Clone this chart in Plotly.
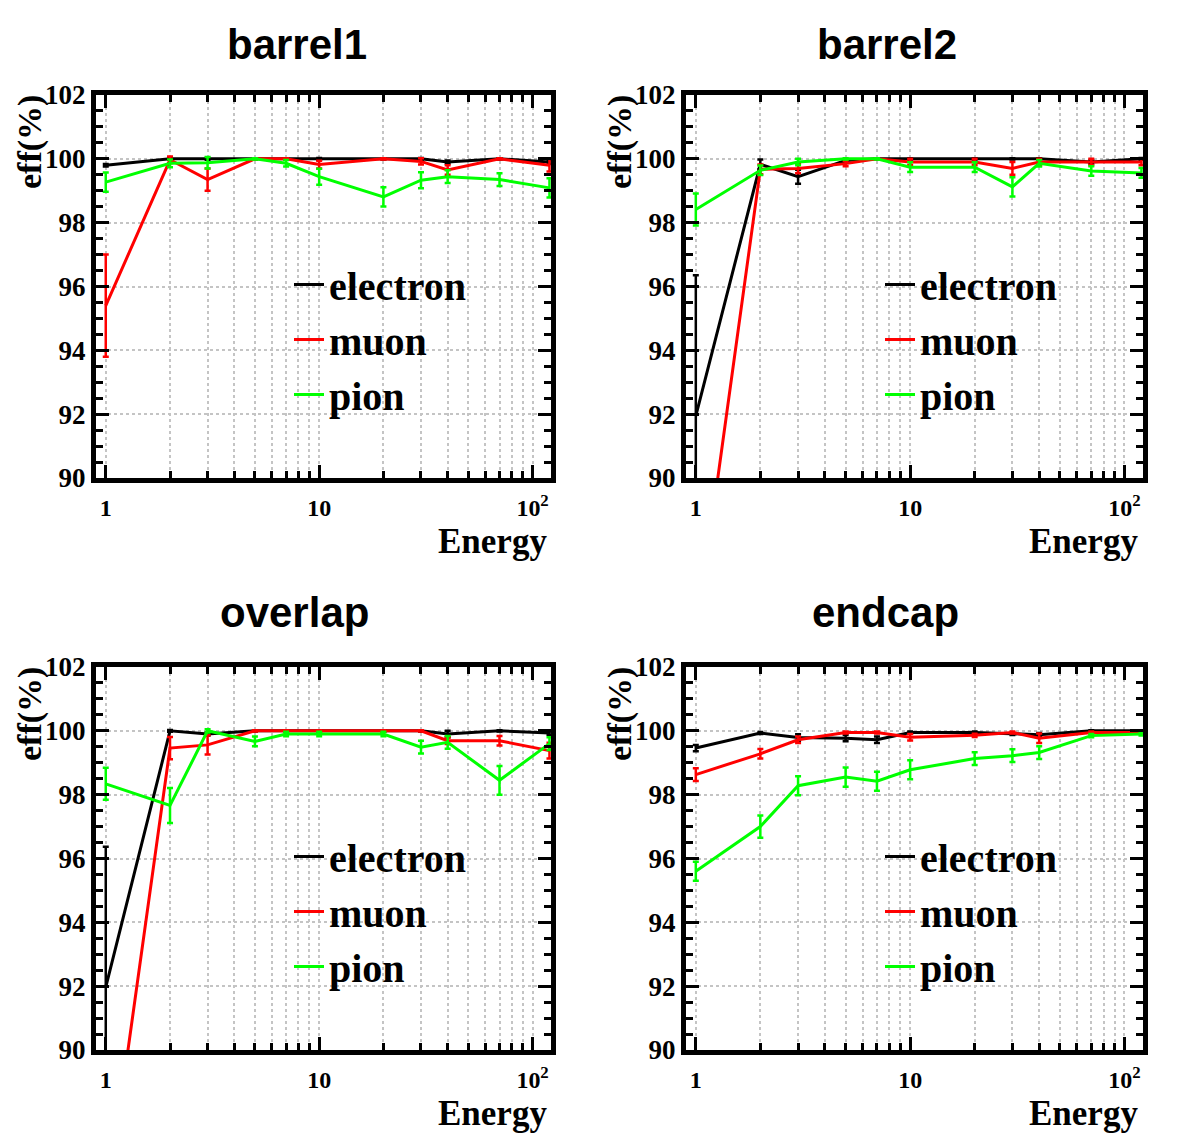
import plotly.graph_objects as go
import math

energy = [1, 2, 3, 5, 7, 10, 20, 30, 40, 70, 120]
panels = ["barrel1", "barrel2", "overlap", "endcap"]

# barrel1
b1_e = [99.80, 100.0, 100.0, 100.0, 100.0, 100.0, 100.0, 100.0, 99.90, 100.0, 99.90]
b1_e_err = [0.04, 0.03, 0.03, 0.02, 0.02, 0.03, 0.02, 0.03, 0.05, 0.02, 0.06]
b1_m = [95.40, 99.97, 99.35, 100.0, 100.0, 99.82, 100.0, 99.92, 99.65, 100.0, 99.80]
b1_m_err = [1.60, 0.10, 0.35, 0.02, 0.02, 0.12, 0.02, 0.10, 0.15, 0.02, 0.20]
b1_p = [99.27, 99.86, 99.88, 100.0, 99.86, 99.44, 98.81, 99.33, 99.44, 99.35, 99.09]
b1_p_err = [0.30, 0.12, 0.18, 0.02, 0.10, 0.25, 0.30, 0.25, 0.20, 0.20, 0.30]

# barrel2
b2_e = [91.95, 99.83, 99.44, 99.95, 100.0, 100.0, 100.0, 100.0, 100.0, 99.90, 100.0]
b2_e_err = [4.40, 0.15, 0.22, 0.03, 0.02, 0.02, 0.02, 0.02, 0.02, 0.05, 0.03]
b2_m = [85.0, 99.67, 99.70, 99.85, 100.0, 99.90, 99.90, 99.70, 99.90, 99.90, 99.90]
b2_m_err = [4.0, 0.15, 0.15, 0.08, 0.02, 0.10, 0.10, 0.20, 0.10, 0.10, 0.10]
b2_p = [98.41, 99.64, 99.90, 100.0, 100.0, 99.74, 99.74, 99.12, 99.86, 99.62, 99.56]
b2_p_err = [0.50, 0.15, 0.10, 0.02, 0.02, 0.15, 0.15, 0.30, 0.10, 0.15, 0.15]

# overlap
ov_e = [91.97, 100.0, 99.90, 100.0, 100.0, 100.0, 100.0, 100.0, 99.90, 100.0, 99.93]
ov_e_err = [4.40, 0.03, 0.05, 0.02, 0.02, 0.02, 0.02, 0.02, 0.10, 0.02, 0.05]
ov_m = [85.0, 99.46, 99.56, 100.0, 100.0, 100.0, 100.0, 100.0, 99.69, 99.69, 99.38]
ov_m_err = [4.0, 0.35, 0.30, 0.02, 0.02, 0.02, 0.02, 0.02, 0.10, 0.15, 0.25]
ov_p = [98.34, 97.66, 100.0, 99.67, 99.90, 99.90, 99.90, 99.49, 99.64, 98.45, 99.60]
ov_p_err = [0.50, 0.55, 0.05, 0.15, 0.07, 0.07, 0.07, 0.20, 0.20, 0.45, 0.20]

# endcap
ec_e = [99.46, 99.93, 99.79, 99.77, 99.72, 99.95, 99.95, 99.90, 99.88, 100.0, 100.0]
ec_e_err = [0.10, 0.03, 0.10, 0.10, 0.10, 0.03, 0.03, 0.03, 0.05, 0.02, 0.02]
ec_m = [98.63, 99.28, 99.72, 99.95, 99.95, 99.80, 99.86, 99.95, 99.77, 99.95, 99.95]
ec_m_err = [0.20, 0.15, 0.10, 0.03, 0.03, 0.10, 0.05, 0.03, 0.15, 0.03, 0.03]
ec_p = [95.60, 97.00, 98.28, 98.55, 98.42, 98.78, 99.13, 99.22, 99.32, 99.85, 99.90]
ec_p_err = [0.30, 0.35, 0.30, 0.30, 0.30, 0.30, 0.20, 0.20, 0.20, 0.05, 0.05]

data = [
    [(b1_e, b1_e_err), (b1_m, b1_m_err), (b1_p, b1_p_err)],
    [(b2_e, b2_e_err), (b2_m, b2_m_err), (b2_p, b2_p_err)],
    [(ov_e, ov_e_err), (ov_m, ov_m_err), (ov_p, ov_p_err)],
    [(ec_e, ec_e_err), (ec_m, ec_m_err), (ec_p, ec_p_err)],
]
species = ["electron", "muon", "pion"]
colors = ["#000000", "#ff0000", "#00ff00"]

W, H = 1182, 1146
def px(x):
    return x / W
def py(y):
    return 1 - y / H

xdom = [[px(96), px(551)], [px(686), px(1143)], [px(96), px(551)], [px(686), px(1143)]]
ydom = [[py(478), py(95)], [py(478), py(95)], [py(1050), py(667)], [py(1050), py(667)]]

serif = "Liberation Serif, Times New Roman, serif"
sans = "Liberation Sans, Arial, sans-serif"

fig = go.Figure()
layout = dict(
    width=W, height=H,
    margin=dict(l=0, r=0, t=0, b=0),
    paper_bgcolor="white", plot_bgcolor="white",
    template="none",
    annotations=[],
)

legend_pos = [(289, 252), (880, 252), (289, 824), (880, 824)]
title_pos = [(297, 45), (887, 45), (294, 612), (885, 612)]
eff_pos = [(30, 142), (620, 142), (30, 714), (620, 714)]
energy_pos = [(549, 541), (1140, 541), (549, 1113), (1140, 1113)]

for i in range(4):
    sfx = "" if i == 0 else str(i + 1)
    lg = "legend" if i == 0 else "legend" + str(i + 1)
    for j in range(3):
        vals, errs = data[i][j]
        fig.add_trace(go.Scatter(
            x=energy, y=vals, mode="lines",
            name=species[j],
            line=dict(color=colors[j], width=3),
            error_y=dict(type="data", array=errs, visible=True,
                         color=colors[j], thickness=2.5, width=3),
            xaxis="x" + sfx, yaxis="y" + sfx,
            legend=lg, showlegend=True,
        ))
    axis_common = dict(
        showline=True, linewidth=5, linecolor="black", mirror="allticks",
        ticks="inside", tickwidth=3, tickcolor="black", ticklen=13,
        showgrid=True, gridcolor="#c4c4c4", griddash="dot", gridwidth=1.5,
        zeroline=False, automargin=False,
    )
    layout["xaxis" + sfx] = dict(
        axis_common,
        type="log", domain=xdom[i], anchor="y" + sfx,
        range=[math.log10(0.9), math.log10(122)],
        tickvals=[1, 10, 100], ticktext=["1", "10", "10<sup>2</sup>"],
        ticklabelstandoff=4,
        tickfont=dict(family=serif, size=24, color="black", weight="bold"),
        minor=dict(dtick="D1", ticks="inside", ticklen=7, tickwidth=3,
                   tickcolor="black", showgrid=True, gridcolor="#c4c4c4",
                   griddash="dot", gridwidth=1.5),
    )
    layout["yaxis" + sfx] = dict(
        axis_common,
        domain=ydom[i], anchor="x" + sfx,
        range=[90, 102], dtick=2, tick0=90,
        ticklabelstandoff=0,
        tickfont=dict(family=serif, size=27, color="black", weight="bold"),
        minor=dict(dtick=0.5, ticks="inside", ticklen=7, tickwidth=3,
                   tickcolor="black", showgrid=False),
    )
    lx, ly = legend_pos[i]
    layout[lg] = dict(
        x=px(lx), y=py(ly), xanchor="left", yanchor="top",
        bgcolor="rgba(0,0,0,0)", borderwidth=0,
        font=dict(family=serif, size=40, color="black", weight="bold"),
        tracegroupgap=0, itemwidth=30,
    )
    tx, ty = title_pos[i]
    layout["annotations"].append(dict(
        text=panels[i], x=px(tx), y=py(ty), xref="paper", yref="paper",
        xanchor="center", yanchor="middle", showarrow=False,
        font=dict(family=sans, size=42, color="black", weight="bold"),
    ))
    ex, ey = eff_pos[i]
    layout["annotations"].append(dict(
        text="eff(%)", x=px(ex), y=py(ey), xref="paper", yref="paper",
        xanchor="center", yanchor="middle", showarrow=False, textangle=-90,
        font=dict(family=serif, size=34, color="black", weight="bold"),
    ))
    nx, ny = energy_pos[i]
    layout["annotations"].append(dict(
        text="Energy", x=px(nx), y=py(ny), xref="paper", yref="paper",
        xanchor="right", yanchor="middle", showarrow=False,
        font=dict(family=serif, size=35, color="black", weight="bold"),
    ))

fig.update_layout(**layout)
fig.write_html("out.html")
